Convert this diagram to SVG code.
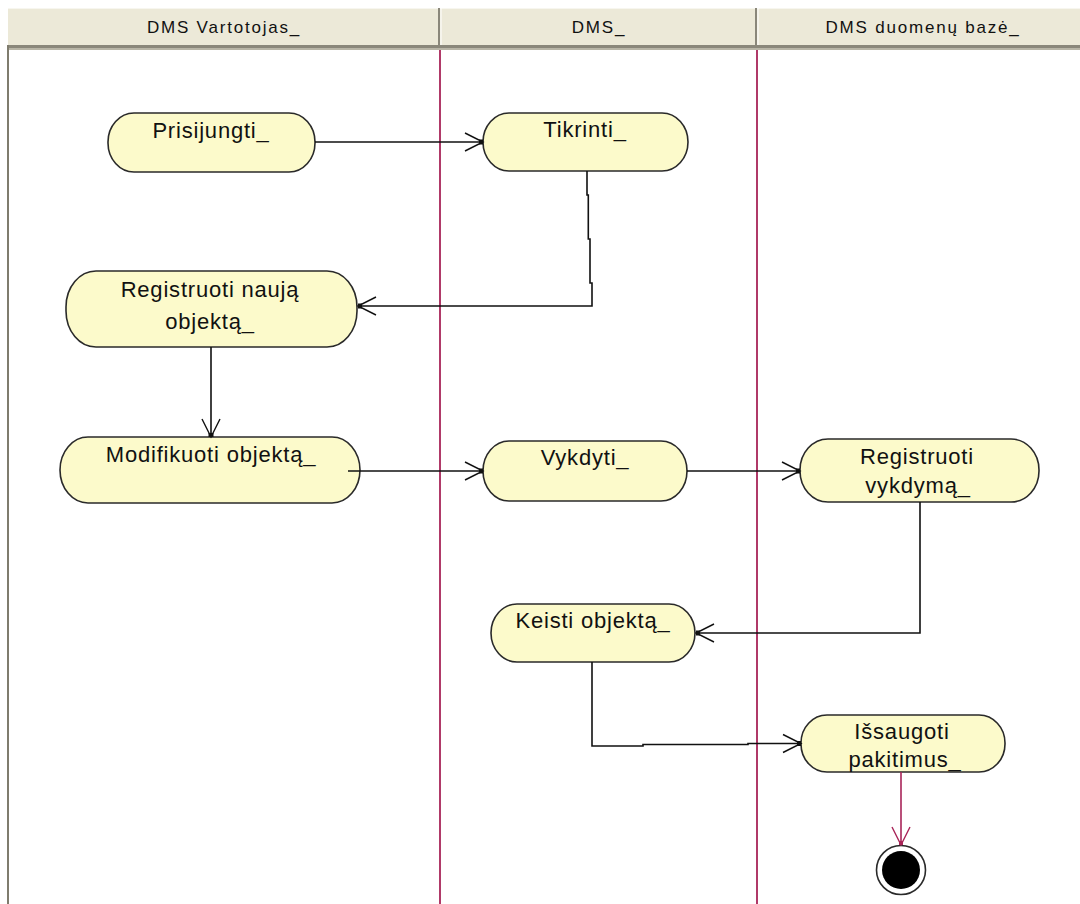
<svg xmlns="http://www.w3.org/2000/svg" width="1080" height="904" viewBox="0 0 1080 904">
  <style>
    .hdr { fill: #ece9d8; }
    .hdr-text { font-family: "Liberation Sans", Arial, sans-serif; font-size: 17px; letter-spacing: 1.8px; fill: #111; text-anchor: middle; }
    .lane { stroke: #a82458; stroke-width: 1.8; fill: none; }
    .node { fill: #fcfacb; stroke: #2a2a2a; stroke-width: 1.6; }
    .label { font-family: "Liberation Sans", Arial, sans-serif; font-size: 22px; letter-spacing: 0.8px; fill: #111; text-anchor: middle; }
    .flow { fill: none; stroke: #111; stroke-width: 1.6; }
    .flow-end { fill: none; stroke: #a82458; stroke-width: 1.6; }
  </style>
  <defs>
    <marker id="arrow" markerUnits="userSpaceOnUse" viewBox="-22 -12 26 24" refX="0" refY="0" markerWidth="26" markerHeight="24" orient="auto">
      <path d="M-18,-9 L0,0 L-18,9" fill="none" stroke="#111" stroke-width="1.4"/>
      <rect x="-4" y="-2.5" width="4" height="5" fill="#111"/>
    </marker>
    <marker id="arrow-end" markerUnits="userSpaceOnUse" viewBox="-22 -12 26 24" refX="0" refY="0" markerWidth="26" markerHeight="24" orient="auto">
      <path d="M-18,-9 L0,0 L-18,9" fill="none" stroke="#a82458" stroke-width="1.4"/>
      <rect x="-4" y="-2" width="4" height="4" fill="#a82458"/>
    </marker>
  </defs>

  <!-- canvas -->
  <rect x="0" y="0" width="1080" height="904" fill="#ffffff"/>

  <!-- swimlane header -->
  <g id="header">
    <rect class="hdr" x="8" y="8" width="1072" height="38"/>
    <line x1="8" y1="8.5" x2="1080" y2="8.5" stroke="#f7f6ef" stroke-width="1"/>
    <rect x="8" y="45" width="1072" height="3" fill="#8a877a"/>
    <rect x="8" y="48" width="1072" height="2" fill="#b8b5a6"/>
    <line x1="439" y1="8" x2="439" y2="45" stroke="#8a877a" stroke-width="2"/>
    <line x1="441" y1="8" x2="441" y2="45" stroke="#ffffff" stroke-width="1"/>
    <line x1="756" y1="8" x2="756" y2="45" stroke="#8a877a" stroke-width="2"/>
    <line x1="758" y1="8" x2="758" y2="45" stroke="#ffffff" stroke-width="1"/>
    <text class="hdr-text" x="224" y="33">DMS Vartotojas_</text>
    <text class="hdr-text" x="599" y="33">DMS_</text>
    <text class="hdr-text" x="923" y="33">DMS duomenų bazė_</text>
  </g>

  <!-- diagram frame and lane separators -->
  <g id="lanes">
    <rect x="7" y="45" width="2" height="859" fill="#7f7c6e"/>
    <line class="lane" x1="440" y1="50" x2="440" y2="904"/>
    <line class="lane" x1="757" y1="50" x2="757" y2="904"/>
  </g>

  <!-- activities -->
  <g id="prisijungti">
    <rect class="node" x="108" y="113" width="207" height="59" rx="26" ry="29"/>
    <text class="label" x="211" y="138">Prisijungti_</text>
  </g>
  <g id="tikrinti">
    <rect class="node" x="483" y="113" width="205" height="58" rx="26" ry="29"/>
    <text class="label" x="585" y="137">Tikrinti_</text>
  </g>
  <g id="registruoti-nauja">
    <rect class="node" x="66" y="271" width="291" height="76" rx="30" ry="36"/>
    <text class="label" x="210" y="297">Registruoti naują</text>
    <text class="label" x="210" y="329">objektą_</text>
  </g>
  <g id="modifikuoti">
    <rect class="node" x="60" y="437" width="300" height="66" rx="28" ry="33"/>
    <text class="label" x="211" y="462">Modifikuoti objektą_</text>
  </g>
  <g id="vykdyti">
    <rect class="node" x="483" y="441" width="204" height="60" rx="26" ry="30"/>
    <text class="label" x="585" y="465">Vykdyti_</text>
  </g>
  <g id="registruoti-vykdyma">
    <rect class="node" x="800" y="439" width="239" height="63" rx="28" ry="31"/>
    <text class="label" x="917" y="464">Registruoti</text>
    <text class="label" x="918" y="493">vykdymą_</text>
  </g>
  <g id="keisti">
    <rect class="node" x="491" y="604" width="204" height="58" rx="26" ry="29"/>
    <text class="label" x="593" y="628">Keisti objektą_</text>
  </g>
  <g id="issaugoti">
    <rect class="node" x="801" y="715" width="204" height="57" rx="26" ry="28"/>
    <text class="label" x="902" y="739">Išsaugoti</text>
    <text class="label" x="905" y="767">pakitimus_</text>
  </g>

  <!-- final state -->
  <g id="final">
    <circle cx="901" cy="870" r="24.5" fill="#ffffff" stroke="#2a2a2a" stroke-width="1.6"/>
    <circle cx="901" cy="870" r="19" fill="#000000"/>
  </g>

  <!-- control flows -->
  <g id="connectors">
    <path class="flow" d="M315,142 H483" marker-end="url(#arrow)"/>
    <path class="flow" d="M587,171 V195 H588.3 V239 H590 V283 H592 V306 H358" marker-end="url(#arrow)"/>
    <path class="flow" d="M211,347 V437" marker-end="url(#arrow)"/>
    <path class="flow" d="M348,471 H483" marker-end="url(#arrow)"/>
    <path class="flow" d="M687,471 H800" marker-end="url(#arrow)"/>
    <path class="flow" d="M920,502 V633 H696" marker-end="url(#arrow)"/>
    <path class="flow" d="M592,662 V746 H643 V744.5 H748 V743.5 H801" marker-end="url(#arrow)"/>
    <path class="flow-end" d="M901,772 V845" marker-end="url(#arrow-end)"/>
  </g>
</svg>
